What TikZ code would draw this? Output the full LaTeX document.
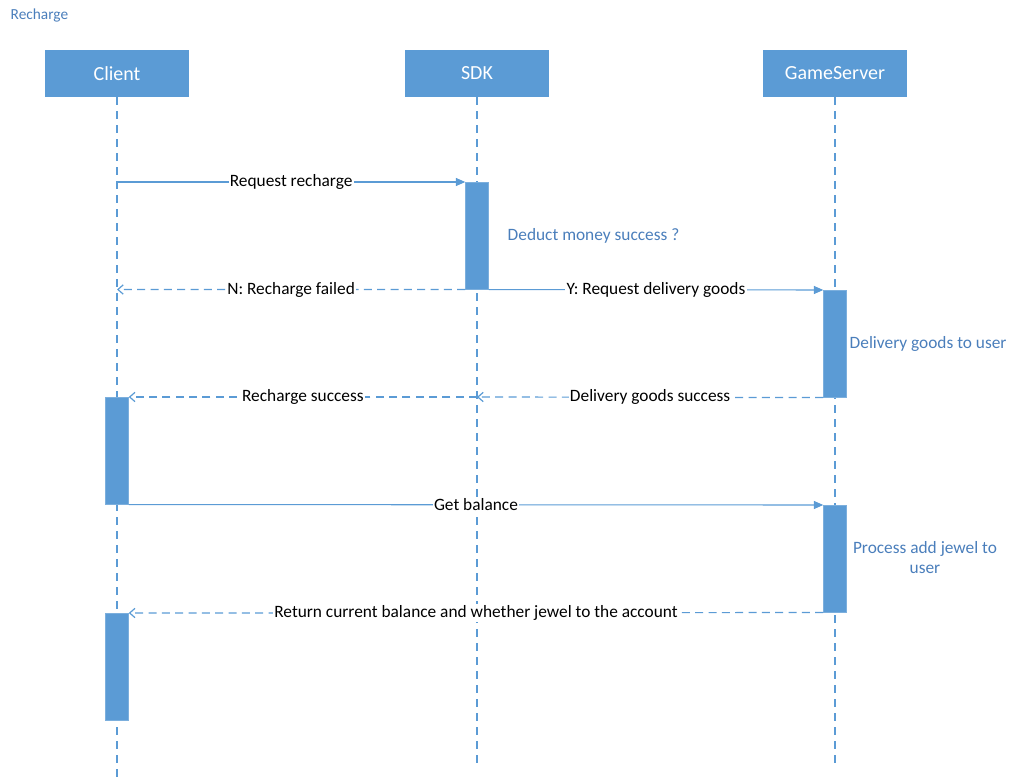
\documentclass[tikz,border=0pt]{standalone}
\usepackage{fontspec}
\setmainfont{Carlito}
\usetikzlibrary{arrows.meta}
\definecolor{boxblue}{HTML}{5B9BD5}
\definecolor{noteblue}{HTML}{4A7EBB}
\tikzset{
  actor/.style={fill=boxblue,text=white,minimum width=108pt,minimum height=35.25pt,
    inner sep=0pt,font=\fontsize{15}{17}\selectfont},
  actbar/.style={fill=boxblue,draw=boxblue!80!white,line width=0.4pt,minimum width=17.25pt,
    minimum height=80.25pt,inner sep=0pt,anchor=north},
  lifeline/.style={draw=boxblue,line width=0.9pt,dash pattern=on 6pt off 4.5pt},
  call/.style={draw=boxblue,line width=0.8pt,-{Triangle[length=7pt,width=6pt]}},
  reply/.style={draw=boxblue,line width=0.9pt,dash pattern=on 6pt off 4pt,
    -{Straight Barb[length=4pt,width=7pt]}},
  msglabel/.style={fill=white,inner sep=1pt,text=black,font=\fontsize{13}{15}\selectfont},
  note/.style={text=noteblue,font=\fontsize{13}{15}\selectfont}
}
\begin{document}
\begin{tikzpicture}[x=0.75pt,y=-0.75pt]
\useasboundingbox (0,0) rectangle (1014,782);
\node[anchor=west,text=noteblue,font=\fontsize{11.5}{13}\selectfont] (title) at (6,15) {Recharge};

% participants
\node[actor] (client) at (117,73.5) {Client};
\node[actor] (sdk) at (477,73.5) {SDK};
\node[actor] (game) at (835,73.5) {GameServer};

% lifelines
\coordinate (clientend) at (117,782);
\coordinate (sdkend) at (477,765);
\coordinate (gameend) at (835,766);
\draw[lifeline] (client.south) -- (clientend);
\draw[lifeline] (sdk.south) -- (sdkend);
\draw[lifeline] (game.south) -- (gameend);

% activations
\node[actbar] (sdka) at (477,182) {};
\node[actbar] (gamea) at (835,290) {};
\node[actbar] (clienta) at (117,397) {};
\node[actbar] (gameb) at (835,505) {};
\node[actbar] (clientb) at (117,613) {};

% points on the lifelines
\coordinate (c1) at (117,182);
\coordinate (c2) at (117,289.5);
\coordinate (s3) at (477,397);

% messages
\draw[call] (c1) -- node[msglabel] {Request recharge} (sdka.north west);
\draw[reply] (sdka.south west) -- node[msglabel] {N: Recharge failed} (c2);
\draw[call] (sdka.south east) -- node[msglabel] {Y: Request delivery goods} (gamea.north west);
\draw[reply] (gamea.south west) -- node[msglabel] {Delivery goods success} (s3);
\draw[reply] (s3) -- node[msglabel] {Recharge success} (clienta.north east);
\draw[call] (clienta.south east) -- node[msglabel] {Get balance} (gameb.north west);
\draw[reply] (gameb.south west) -- node[msglabel] {Return current balance and whether jewel to the account} (clientb.north east);

% notes
\node[note,anchor=west] (n1) at (503,236) {Deduct money success ?};
\node[note,anchor=west] (n2) at (845,344) {Delivery goods to user};
\node[note,align=center] (n3) at (925,558) {Process add jewel to\\user};
\end{tikzpicture}
\end{document}
